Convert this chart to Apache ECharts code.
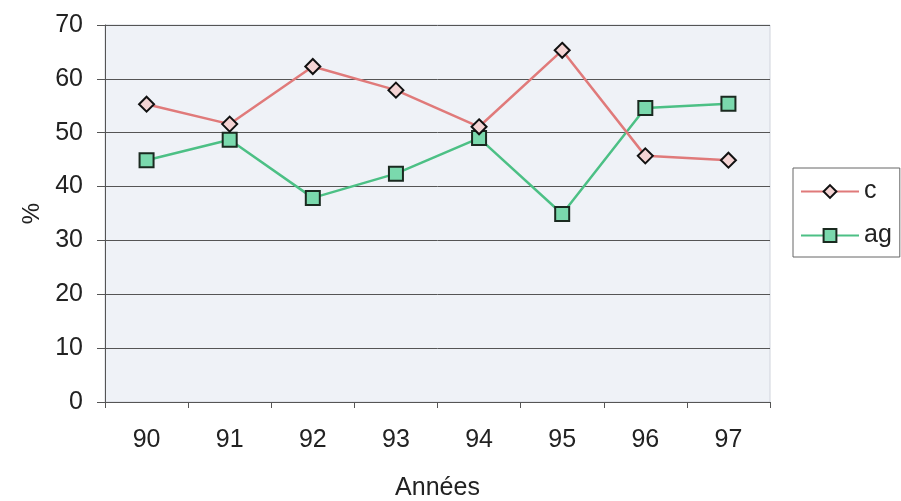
<!DOCTYPE html>
<html>
<head>
<meta charset="utf-8">
<script src="https://cdn.jsdelivr.net/npm/echarts@6/dist/echarts.min.js"></script>
<style>html,body{margin:0;padding:0;background:#fff;}#c{width:901px;height:501px;}</style>
</head>
<body>
<div id="c"></div>
<script>
var categories = ['90','91','92','93','94','95','96','97'];
var seriesC = [55.3, 51.6, 62.3, 57.9, 51.1, 65.3, 45.7, 44.9];
var seriesAg = [44.9, 48.7, 37.9, 42.4, 49.0, 34.9, 54.6, 55.4];
var yTicks = {min: 0, max: 70, interval: 10};

var chart = echarts.init(document.getElementById('c'), null, {renderer: 'canvas'});
var font = 'Liberation Sans, Arial, sans-serif';
chart.setOption({
  animation: false,
  backgroundColor: '#ffffff',
  grid: {left: 105, right: 131, top: 25, bottom: 99, containLabel: false, outerBoundsMode: 'none', show: true, backgroundColor: '#eff2f7', borderColor: '#d0d4dc', borderWidth: 1},
  legend: {
    left: 793, top: 168, orient: 'vertical',
    borderColor: '#666', borderWidth: 1, padding: [11, 8, 9, 7],
    itemWidth: 58, itemHeight: 16, itemGap: 19,
    textStyle: {fontFamily: font, fontSize: 25, color: '#222'},
    data: ['c', 'ag']
  },
  xAxis: {
    type: 'category', data: categories, boundaryGap: true,
    name: 'Années', nameLocation: 'middle', nameGap: 74,
    nameTextStyle: {fontFamily: font, fontSize: 25, color: '#222'},
    axisLine: {lineStyle: {color: '#555', width: 1}},
    axisTick: {show: true, length: 6, lineStyle: {color: '#555'}},
    axisLabel: {fontFamily: font, fontSize: 25, color: '#222', margin: 26},
    splitLine: {show: false}
  },
  yAxis: {
    type: 'value', min: yTicks.min, max: yTicks.max, interval: yTicks.interval,
    name: '%', nameLocation: 'middle', nameGap: 47, nameRotate: 90,
    nameTextStyle: {fontFamily: font, fontSize: 24, color: '#222'},
    axisLine: {show: true, lineStyle: {color: '#555', width: 1}},
    axisTick: {show: true, length: 8, lineStyle: {color: '#555'}},
    axisLabel: {fontFamily: font, fontSize: 25, color: '#222', margin: 22},
    splitLine: {show: true, lineStyle: {color: '#555', width: 1}}
  },
  series: [
    {
      name: 'c', type: 'line', data: seriesC,
      symbol: 'diamond', symbolSize: [15, 15],
      lineStyle: {color: '#e07a7a', width: 2.5},
      itemStyle: {color: '#f4d4d4', borderColor: '#111', borderWidth: 2},
      color: '#e07a7a', z: 3
    },
    {
      name: 'ag', type: 'line', data: seriesAg,
      symbol: 'rect', symbolSize: 14,
      lineStyle: {color: '#4cc085', width: 2.5},
      itemStyle: {color: '#7ad9ad', borderColor: '#1a2a20', borderWidth: 2},
      color: '#4cc085', z: 2
    }
  ]
});
</script>
</body>
</html>
